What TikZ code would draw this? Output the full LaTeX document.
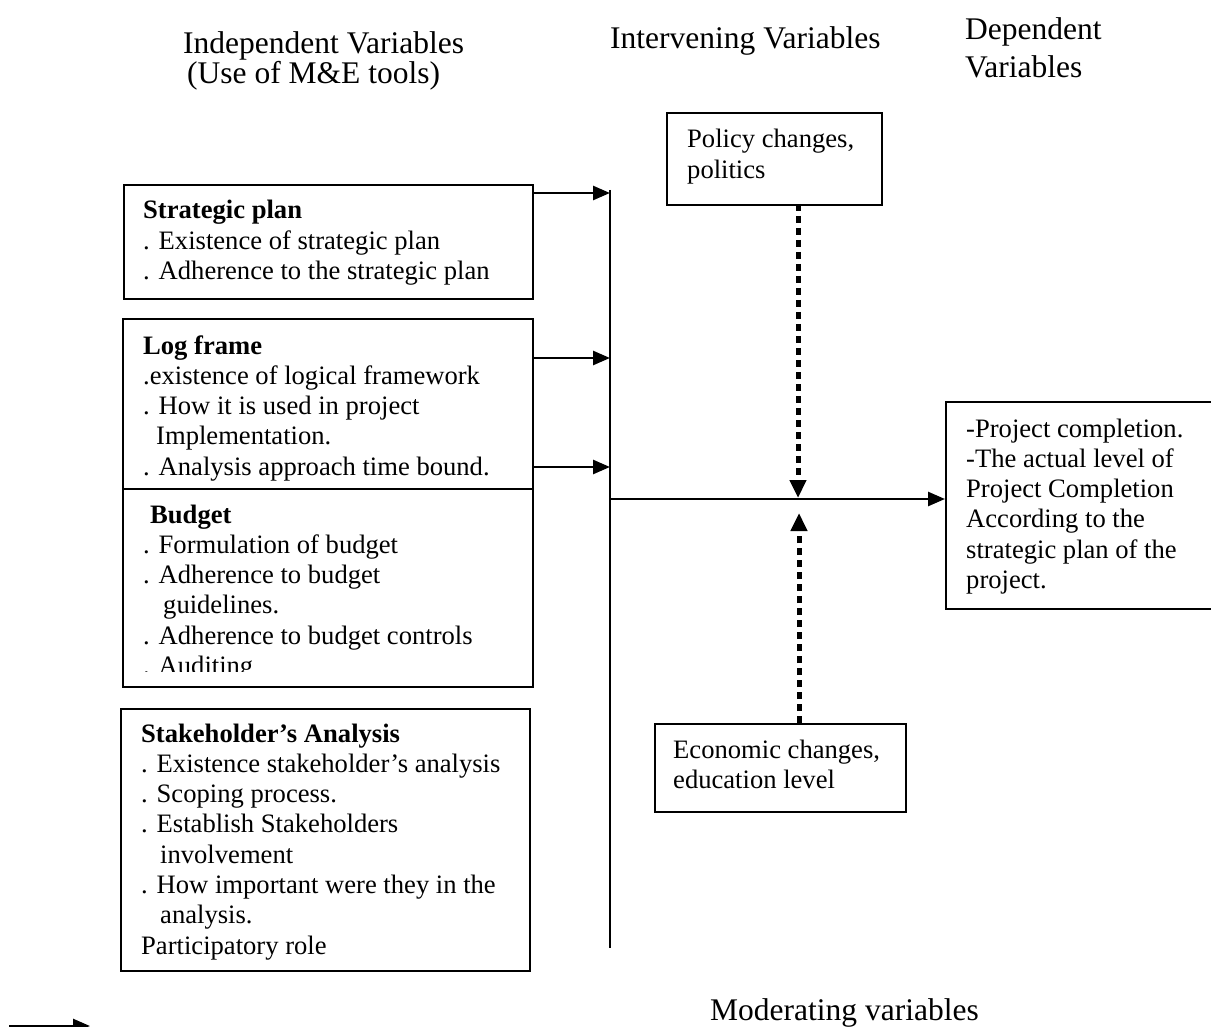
\documentclass[tikz,border=0pt]{standalone}
\usepackage{fontspec}
\setmainfont{Liberation Serif}
\usetikzlibrary{arrows.meta}
\newcommand{\bxfont}{\fontsize{26.6pt}{30.3pt}\selectfont}
\newcommand{\hdfont}{\fontsize{31.5pt}{36pt}\selectfont}
\newcommand{\blines}[1]{\parbox[t]{420pt}{\bxfont\raggedright #1}}
\begin{document}
\begin{tikzpicture}[x=1pt,y=-1pt,
  box/.style={draw, line width=1.8pt, inner sep=0pt, anchor=north west},
  txt/.style={anchor=base west, inner sep=0pt},
  hdr/.style={anchor=base west, inner sep=0pt, font=\hdfont},
  arr/.style={line width=2.6pt, -{Triangle[length=17pt,width=14pt]}},
  dotarr/.style={line width=5pt, dash pattern=on 7pt off 5pt, -{Triangle[length=18pt,width=16pt]}}]
\useasboundingbox (0,0) rectangle (1211,1027);
\fill[white] (0,0) rectangle (1211,1027);

% headers
\node[hdr] (hIndep) at (183,54) {Independent Variables};
\node[hdr] (hUse) at (187,84) {(Use of M\&E tools)};
\node[hdr] (hInterv) at (610,49) {Intervening Variables};
\node[hdr] (hDepA) at (965,40) {Dependent};
\node[hdr] (hDepB) at (965,78) {Variables};
\node[hdr] (moder) at (710,1020) {Moderating variables};

% strategic plan
\node[box, minimum width=409pt, minimum height=114pt] (spbox) at (123,184) {};
\node[txt] (sptext) at (143,219) {\blines{\textbf{Strategic plan}\\. Existence of strategic plan\\. Adherence to the strategic plan}};

% log frame
\node[box, minimum width=410pt, minimum height=170pt] (lfbox) at (122,318) {};
\begin{scope}
\clip (122,318) rectangle (532,487);
\node[txt] (lftext) at (143,354) {\blines{\textbf{Log frame}\\.existence of logical framework\\. How it is used in project\\\hspace*{13pt}Implementation.\\. Analysis approach time bound.}};
\end{scope}

% budget
\node[box, minimum width=410pt, minimum height=198pt] (bgbox) at (122,488) {};
\begin{scope}
\clip (122,488) rectangle (532,671.5);
\node[txt] (bgtext) at (143,523) {\blines{\hspace*{7pt}\textbf{Budget}\\. Formulation of budget\\. Adherence to budget\\\hspace*{20pt}guidelines.\\. Adherence to budget controls\\. Auditing}};
\end{scope}

% stakeholder
\node[box, minimum width=409pt, minimum height=262pt] (shbox) at (120,708) {};
\node[txt] (shtext) at (141,742) {\blines{\textbf{Stakeholder’s Analysis}\\. Existence stakeholder’s analysis\\. Scoping process.\\. Establish Stakeholders\\\hspace*{19pt}involvement\\. How important were they in the\\\hspace*{19pt}analysis.\\Participatory role}};

% policy
\node[box, minimum width=215pt, minimum height=92pt] (polbox) at (666,112) {};
\node[txt] (poltext) at (687,148) {\blines{Policy changes,\\politics}};

% economic
\node[box, minimum width=251pt, minimum height=88pt] (ecobox) at (654,723) {};
\node[txt] (ecotext) at (673,758) {\blines{Economic changes,\\education level}};

% dependent
\node[box, minimum width=275pt, minimum height=207pt] (depbox) at (945,401) {};
\node[txt] (deptext) at (966,437) {\blines{-Project completion.\\-The actual level of\\Project Completion\\According to the\\strategic plan of the\\project.}};

% vertical collector line
\coordinate (vtop) at (610,190);
\coordinate (vbot) at (610,948);
\draw[line width=1.8pt] (vtop) -- (vbot);

\coordinate (a1) at (610,193);
\coordinate (a2) at (610,358);
\coordinate (a3) at (610,467);
\draw[arr] (spbox.east |- a1) -- (a1);
\draw[arr] (lfbox.east |- a2) -- (a2);
\draw[arr] (lfbox.east |- a3) -- (a3);

\coordinate (vout) at (610,499);
\draw[arr] (vout) -- (depbox.west |- vout);

% moderating arrows
\coordinate (pd) at (798,204);
\coordinate (pt) at (798,498);
\draw[dotarr] (pd) -- (pt);
\coordinate (eu) at (799,723);
\coordinate (et) at (799,513);
\draw[dotarr] (eu) -- (et);

% legend arrow (cut at page edge)
\coordinate (lgA) at (9,1026);
\coordinate (lgB) at (90,1026);
\draw[arr] (lgA) -- (lgB);
\end{tikzpicture}
\end{document}
